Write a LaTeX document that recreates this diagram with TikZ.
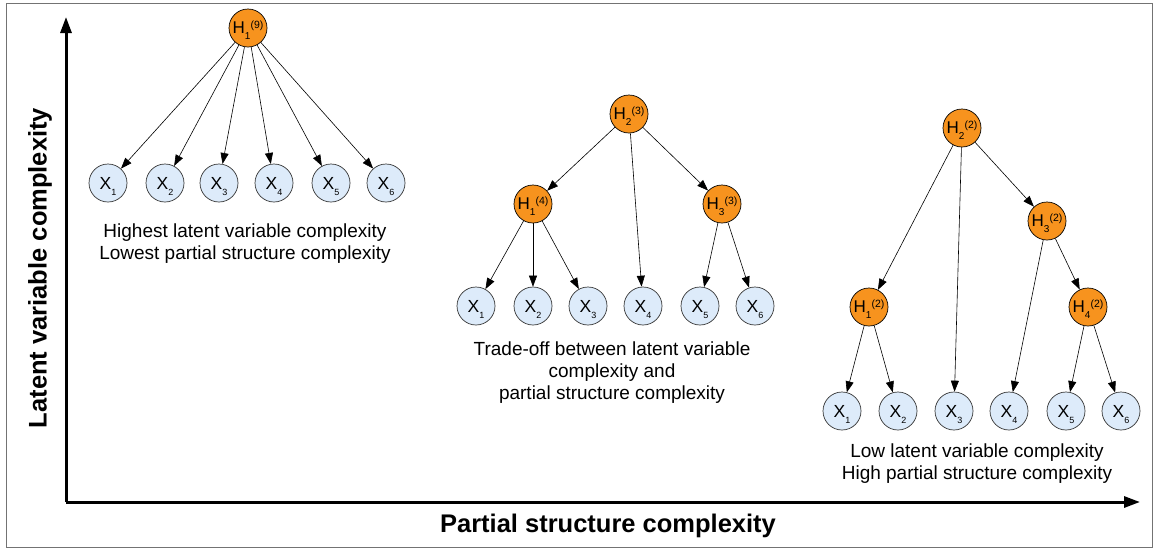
\documentclass[tikz,border=0pt]{standalone}
\usepackage{fontspec}
\setmainfont{Liberation Sans}
\usetikzlibrary{arrows.meta}
\definecolor{hor}{HTML}{F7931E}
\definecolor{xbl}{HTML}{DDEBFA}
\newcommand{\hlab}[3]{#1\smash{\raisebox{-6pt}{\fontsize{10}{10}\selectfont #2}\raisebox{5pt}{\fontsize{10.5}{10}\selectfont #3}}}
\newcommand{\xlab}[2]{#1\smash{\raisebox{-6pt}{\fontsize{9}{9}\selectfont #2}}}
\tikzset{
  hnode/.style={circle,draw=black,line width=0.7pt,fill=hor,minimum size=38pt,inner sep=0pt,font=\fontsize{17}{17}\selectfont},
  xnode/.style={circle,draw=black!80,line width=0.7pt,fill=xbl,minimum size=38pt,inner sep=0pt,font=\fontsize{17.5}{17}\selectfont},
  arr/.style={line width=0.6pt,-{Triangle[length=11pt,width=8pt]}},
  axisline/.style={line width=3pt,-{Triangle[length=16pt,width=11pt]}},
  captext/.style={align=center,font=\fontsize{19}{22}\selectfont}
}
\begin{document}
\begin{tikzpicture}[x=1pt,y=-1pt]
\useasboundingbox (0,0) rectangle (1156,550);
\draw[black!55,line width=1pt] (6,3) rectangle (1152,547);
% axes
\coordinate (o) at (66,502);
\coordinate (ytip) at (66,17);
\coordinate (xtip) at (1140,502);
\draw[axisline] (o) -- (ytip);
\draw[axisline] (o) -- (xtip);
\node[font=\bfseries\fontsize{25.5}{25}\selectfont] (xl) at (608,526) {Partial structure complexity};
\node[font=\bfseries\fontsize{25.5}{25}\selectfont,rotate=90] (yl) at (40,268) {Latent variable complexity};
% tree 1
\node[hnode] (a) at (248,28) {\hlab{H}{1}{(9)}};
\node[xnode] (a1) at (108,183) {\xlab{X}{1}};
\node[xnode] (a2) at (165,183) {\xlab{X}{2}};
\node[xnode] (a3) at (219,183) {\xlab{X}{3}};
\node[xnode] (a4) at (274,183) {\xlab{X}{4}};
\node[xnode] (a5) at (331,183) {\xlab{X}{5}};
\node[xnode] (a6) at (386,183) {\xlab{X}{6}};
\foreach \i in {1,...,6} \draw[arr] (a) -- (a\i);
\node[captext] (ta) at (245,244) {Highest latent variable complexity\\Lowest partial structure complexity};
% tree 2
\node[hnode] (b) at (629,114) {\hlab{H}{2}{(3)}};
\node[hnode] (bl) at (533,204) {\hlab{H}{1}{(4)}};
\node[hnode] (br) at (722,204) {\hlab{H}{3}{(3)}};
\node[xnode] (b1) at (476,306) {\xlab{X}{1}};
\node[xnode] (b2) at (533,306) {\xlab{X}{2}};
\node[xnode] (b3) at (588,306) {\xlab{X}{3}};
\node[xnode] (b4) at (643,306) {\xlab{X}{4}};
\node[xnode] (b5) at (700,306) {\xlab{X}{5}};
\node[xnode] (b6) at (755,306) {\xlab{X}{6}};
\draw[arr] (b) -- (bl);
\draw[arr] (b) -- (br);
\draw[arr] (b) -- (b4);
\draw[arr] (bl) -- (b1);
\draw[arr] (bl) -- (b2);
\draw[arr] (bl) -- (b3);
\draw[arr] (br) -- (b5);
\draw[arr] (br) -- (b6);
\node[captext] (tb) at (612,373) {Trade-off between latent variable\\complexity and\\partial structure complexity};
% tree 3
\node[hnode] (c) at (962,128) {\hlab{H}{2}{(2)}};
\node[hnode] (c3) at (1047,221) {\hlab{H}{3}{(2)}};
\node[hnode] (c1) at (869,307) {\hlab{H}{1}{(2)}};
\node[hnode] (c4) at (1088,307) {\hlab{H}{4}{(2)}};
\node[xnode] (d1) at (842,411) {\xlab{X}{1}};
\node[xnode] (d2) at (898,411) {\xlab{X}{2}};
\node[xnode] (d3) at (954,411) {\xlab{X}{3}};
\node[xnode] (d4) at (1009,411) {\xlab{X}{4}};
\node[xnode] (d5) at (1066,411) {\xlab{X}{5}};
\node[xnode] (d6) at (1121,411) {\xlab{X}{6}};
\draw[arr] (c) -- (c1);
\draw[arr] (c) -- (d3);
\draw[arr] (c) -- (c3);
\draw[arr] (c3) -- (d4);
\draw[arr] (c3) -- (c4);
\draw[arr] (c1) -- (d1);
\draw[arr] (c1) -- (d2);
\draw[arr] (c4) -- (d5);
\draw[arr] (c4) -- (d6);
\node[captext] (tc) at (977,464) {Low latent variable complexity\\High partial structure complexity};
\end{tikzpicture}
\end{document}
